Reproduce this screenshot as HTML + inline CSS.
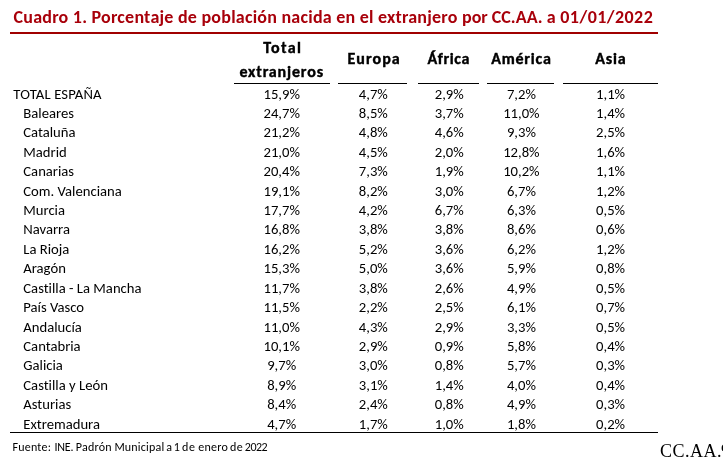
<!DOCTYPE html>
<html><head><meta charset="utf-8"><style>
html,body{margin:0;padding:0;background:#fff;}
body{width:723px;height:468px;overflow:hidden;position:relative;font-variant-ligatures:none;font-feature-settings:'liga' 0,'clig' 0;font-family:"Carlito","Calibri","Liberation Sans",sans-serif;color:#000;}
.t{position:absolute;white-space:nowrap;line-height:1;}
.c{position:absolute;white-space:nowrap;line-height:1;width:120px;text-align:center;}
.d{font-size:14.67px;}
.h{font-size:16px;font-weight:bold;-webkit-text-stroke:0.4px #000;}
.ln{position:absolute;height:1px;background:#000;}
</style></head><body>

<div class="t" style="left:13.5px;top:8.48px;font-size:18px;font-weight:bold;color:#A8000A;letter-spacing:0.235px">Cuadro 1. Porcentaje de población nacida en el extranjero <span style="letter-spacing:0.0px">por CC.AA.</span> a <span style="letter-spacing:0.45px">01/01/2022</span></div>
<div style="position:absolute;left:10px;top:32px;width:648px;height:2px;background:#A00000"></div>
<div class="c h" style="left:222.73px;top:39.76px;letter-spacing:1.3px;">Total</div>
<div class="c h" style="left:221.67px;top:63.76px;letter-spacing:0.85px;">extranjeros</div>
<div class="c h" style="left:314.13px;top:51.36px;letter-spacing:1.077px;">Europa</div>
<div class="c h" style="left:388.68px;top:51.36px;letter-spacing:0.602px;">África</div>
<div class="c h" style="left:461.38px;top:51.36px;letter-spacing:0.792px;">América</div>
<div class="c h" style="left:550.96px;top:51.36px;letter-spacing:0.861px;">Asia</div>
<div class="ln" style="left:234px;top:83px;width:96px"></div>
<div class="ln" style="left:338px;top:83px;width:69px"></div>
<div class="ln" style="left:418px;top:83px;width:61px"></div>
<div class="ln" style="left:487px;top:83px;width:67px"></div>
<div class="ln" style="left:563px;top:83px;width:95px"></div>
<div class="t d" style="left:13.3px;top:87.18px;letter-spacing:0.15px">TOTAL ESPAÑA</div>
<div class="c d" style="left:221.70px;top:87.18px;letter-spacing:0px;">15,9%</div>
<div class="c d" style="left:313.30px;top:87.18px;letter-spacing:0px;">4,7%</div>
<div class="c d" style="left:389.25px;top:87.18px;letter-spacing:0px;">2,9%</div>
<div class="c d" style="left:461.40px;top:87.18px;letter-spacing:0px;">7,2%</div>
<div class="c d" style="left:550.60px;top:87.18px;letter-spacing:0px;">1,1%</div>
<div class="t d" style="left:23.3px;top:106.18px;letter-spacing:0px">Baleares</div>
<div class="c d" style="left:221.70px;top:106.18px;letter-spacing:0px;">24,7%</div>
<div class="c d" style="left:313.30px;top:106.18px;letter-spacing:0px;">8,5%</div>
<div class="c d" style="left:389.25px;top:106.18px;letter-spacing:0px;">3,7%</div>
<div class="c d" style="left:461.40px;top:106.18px;letter-spacing:0px;">11,0%</div>
<div class="c d" style="left:550.60px;top:106.18px;letter-spacing:0px;">1,4%</div>
<div class="t d" style="left:23.3px;top:125.18px;letter-spacing:0px">Cataluña</div>
<div class="c d" style="left:221.70px;top:125.18px;letter-spacing:0px;">21,2%</div>
<div class="c d" style="left:313.30px;top:125.18px;letter-spacing:0px;">4,8%</div>
<div class="c d" style="left:389.25px;top:125.18px;letter-spacing:0px;">4,6%</div>
<div class="c d" style="left:461.40px;top:125.18px;letter-spacing:0px;">9,3%</div>
<div class="c d" style="left:550.60px;top:125.18px;letter-spacing:0px;">2,5%</div>
<div class="t d" style="left:23.3px;top:145.18px;letter-spacing:0px">Madrid</div>
<div class="c d" style="left:221.70px;top:145.18px;letter-spacing:0px;">21,0%</div>
<div class="c d" style="left:313.30px;top:145.18px;letter-spacing:0px;">4,5%</div>
<div class="c d" style="left:389.25px;top:145.18px;letter-spacing:0px;">2,0%</div>
<div class="c d" style="left:461.40px;top:145.18px;letter-spacing:0px;">12,8%</div>
<div class="c d" style="left:550.60px;top:145.18px;letter-spacing:0px;">1,6%</div>
<div class="t d" style="left:23.3px;top:164.18px;letter-spacing:0px">Canarias</div>
<div class="c d" style="left:221.70px;top:164.18px;letter-spacing:0px;">20,4%</div>
<div class="c d" style="left:313.30px;top:164.18px;letter-spacing:0px;">7,3%</div>
<div class="c d" style="left:389.25px;top:164.18px;letter-spacing:0px;">1,9%</div>
<div class="c d" style="left:461.40px;top:164.18px;letter-spacing:0px;">10,2%</div>
<div class="c d" style="left:550.60px;top:164.18px;letter-spacing:0px;">1,1%</div>
<div class="t d" style="left:23.3px;top:184.18px;letter-spacing:0px">Com. Valenciana</div>
<div class="c d" style="left:221.70px;top:184.18px;letter-spacing:0px;">19,1%</div>
<div class="c d" style="left:313.30px;top:184.18px;letter-spacing:0px;">8,2%</div>
<div class="c d" style="left:389.25px;top:184.18px;letter-spacing:0px;">3,0%</div>
<div class="c d" style="left:461.40px;top:184.18px;letter-spacing:0px;">6,7%</div>
<div class="c d" style="left:550.60px;top:184.18px;letter-spacing:0px;">1,2%</div>
<div class="t d" style="left:23.3px;top:203.18px;letter-spacing:0px">Murcia</div>
<div class="c d" style="left:221.70px;top:203.18px;letter-spacing:0px;">17,7%</div>
<div class="c d" style="left:313.30px;top:203.18px;letter-spacing:0px;">4,2%</div>
<div class="c d" style="left:389.25px;top:203.18px;letter-spacing:0px;">6,7%</div>
<div class="c d" style="left:461.40px;top:203.18px;letter-spacing:0px;">6,3%</div>
<div class="c d" style="left:550.60px;top:203.18px;letter-spacing:0px;">0,5%</div>
<div class="t d" style="left:23.3px;top:222.18px;letter-spacing:0px">Navarra</div>
<div class="c d" style="left:221.70px;top:222.18px;letter-spacing:0px;">16,8%</div>
<div class="c d" style="left:313.30px;top:222.18px;letter-spacing:0px;">3,8%</div>
<div class="c d" style="left:389.25px;top:222.18px;letter-spacing:0px;">3,8%</div>
<div class="c d" style="left:461.40px;top:222.18px;letter-spacing:0px;">8,6%</div>
<div class="c d" style="left:550.60px;top:222.18px;letter-spacing:0px;">0,6%</div>
<div class="t d" style="left:23.3px;top:242.18px;letter-spacing:0px">La Rioja</div>
<div class="c d" style="left:221.70px;top:242.18px;letter-spacing:0px;">16,2%</div>
<div class="c d" style="left:313.30px;top:242.18px;letter-spacing:0px;">5,2%</div>
<div class="c d" style="left:389.25px;top:242.18px;letter-spacing:0px;">3,6%</div>
<div class="c d" style="left:461.40px;top:242.18px;letter-spacing:0px;">6,2%</div>
<div class="c d" style="left:550.60px;top:242.18px;letter-spacing:0px;">1,2%</div>
<div class="t d" style="left:23.3px;top:261.18px;letter-spacing:0px">Aragón</div>
<div class="c d" style="left:221.70px;top:261.18px;letter-spacing:0px;">15,3%</div>
<div class="c d" style="left:313.30px;top:261.18px;letter-spacing:0px;">5,0%</div>
<div class="c d" style="left:389.25px;top:261.18px;letter-spacing:0px;">3,6%</div>
<div class="c d" style="left:461.40px;top:261.18px;letter-spacing:0px;">5,9%</div>
<div class="c d" style="left:550.60px;top:261.18px;letter-spacing:0px;">0,8%</div>
<div class="t d" style="left:23.3px;top:281.18px;letter-spacing:0px">Castilla - La Mancha</div>
<div class="c d" style="left:221.70px;top:281.18px;letter-spacing:0px;">11,7%</div>
<div class="c d" style="left:313.30px;top:281.18px;letter-spacing:0px;">3,8%</div>
<div class="c d" style="left:389.25px;top:281.18px;letter-spacing:0px;">2,6%</div>
<div class="c d" style="left:461.40px;top:281.18px;letter-spacing:0px;">4,9%</div>
<div class="c d" style="left:550.60px;top:281.18px;letter-spacing:0px;">0,5%</div>
<div class="t d" style="left:23.3px;top:300.18px;letter-spacing:0px">País Vasco</div>
<div class="c d" style="left:221.70px;top:300.18px;letter-spacing:0px;">11,5%</div>
<div class="c d" style="left:313.30px;top:300.18px;letter-spacing:0px;">2,2%</div>
<div class="c d" style="left:389.25px;top:300.18px;letter-spacing:0px;">2,5%</div>
<div class="c d" style="left:461.40px;top:300.18px;letter-spacing:0px;">6,1%</div>
<div class="c d" style="left:550.60px;top:300.18px;letter-spacing:0px;">0,7%</div>
<div class="t d" style="left:23.3px;top:320.18px;letter-spacing:0px">Andalucía</div>
<div class="c d" style="left:221.70px;top:320.18px;letter-spacing:0px;">11,0%</div>
<div class="c d" style="left:313.30px;top:320.18px;letter-spacing:0px;">4,3%</div>
<div class="c d" style="left:389.25px;top:320.18px;letter-spacing:0px;">2,9%</div>
<div class="c d" style="left:461.40px;top:320.18px;letter-spacing:0px;">3,3%</div>
<div class="c d" style="left:550.60px;top:320.18px;letter-spacing:0px;">0,5%</div>
<div class="t d" style="left:23.3px;top:339.18px;letter-spacing:0px">Cantabria</div>
<div class="c d" style="left:221.70px;top:339.18px;letter-spacing:0px;">10,1%</div>
<div class="c d" style="left:313.30px;top:339.18px;letter-spacing:0px;">2,9%</div>
<div class="c d" style="left:389.25px;top:339.18px;letter-spacing:0px;">0,9%</div>
<div class="c d" style="left:461.40px;top:339.18px;letter-spacing:0px;">5,8%</div>
<div class="c d" style="left:550.60px;top:339.18px;letter-spacing:0px;">0,4%</div>
<div class="t d" style="left:23.3px;top:358.18px;letter-spacing:0px">Galicia</div>
<div class="c d" style="left:221.70px;top:358.18px;letter-spacing:0px;">9,7%</div>
<div class="c d" style="left:313.30px;top:358.18px;letter-spacing:0px;">3,0%</div>
<div class="c d" style="left:389.25px;top:358.18px;letter-spacing:0px;">0,8%</div>
<div class="c d" style="left:461.40px;top:358.18px;letter-spacing:0px;">5,7%</div>
<div class="c d" style="left:550.60px;top:358.18px;letter-spacing:0px;">0,3%</div>
<div class="t d" style="left:23.3px;top:378.18px;letter-spacing:0px">Castilla y León</div>
<div class="c d" style="left:221.70px;top:378.18px;letter-spacing:0px;">8,9%</div>
<div class="c d" style="left:313.30px;top:378.18px;letter-spacing:0px;">3,1%</div>
<div class="c d" style="left:389.25px;top:378.18px;letter-spacing:0px;">1,4%</div>
<div class="c d" style="left:461.40px;top:378.18px;letter-spacing:0px;">4,0%</div>
<div class="c d" style="left:550.60px;top:378.18px;letter-spacing:0px;">0,4%</div>
<div class="t d" style="left:23.3px;top:397.18px;letter-spacing:0px">Asturias</div>
<div class="c d" style="left:221.70px;top:397.18px;letter-spacing:0px;">8,4%</div>
<div class="c d" style="left:313.30px;top:397.18px;letter-spacing:0px;">2,4%</div>
<div class="c d" style="left:389.25px;top:397.18px;letter-spacing:0px;">0,8%</div>
<div class="c d" style="left:461.40px;top:397.18px;letter-spacing:0px;">4,9%</div>
<div class="c d" style="left:550.60px;top:397.18px;letter-spacing:0px;">0,3%</div>
<div class="t d" style="left:23.3px;top:417.18px;letter-spacing:0px">Extremadura</div>
<div class="c d" style="left:221.70px;top:417.18px;letter-spacing:0px;">4,7%</div>
<div class="c d" style="left:313.30px;top:417.18px;letter-spacing:0px;">1,7%</div>
<div class="c d" style="left:389.25px;top:417.18px;letter-spacing:0px;">1,0%</div>
<div class="c d" style="left:461.40px;top:417.18px;letter-spacing:0px;">1,8%</div>
<div class="c d" style="left:550.60px;top:417.18px;letter-spacing:0px;">0,2%</div>
<div class="ln" style="left:10px;top:432px;width:648px"></div>
<div class="t" style="left:0;top:440.62px;font-size:12px;width:300px;height:12px"><span style="position:absolute;left:12.40px;top:0;letter-spacing:0.25px">Fuente:</span><span style="position:absolute;left:54.50px;top:0;letter-spacing:-0.25px">INE.</span><span style="position:absolute;left:75.80px;top:0;letter-spacing:0.25px">Padrón</span><span style="position:absolute;left:114.40px;top:0;letter-spacing:0.2px">Municipal</span><span style="position:absolute;left:166.30px;top:0;letter-spacing:0px">a</span><span style="position:absolute;left:173.80px;top:0;letter-spacing:0.25px">1</span><span style="position:absolute;left:182.00px;top:0;letter-spacing:0.6px">de</span><span style="position:absolute;left:198.30px;top:0;letter-spacing:0.25px">enero</span><span style="position:absolute;left:229.90px;top:0;letter-spacing:0.6px">de</span><span style="position:absolute;left:244.80px;top:0;letter-spacing:-0.5px">2022</span></div>
<div class="t" style="left:660px;top:442.452px;font-size:18px;font-family:'Liberation Serif',serif;letter-spacing:0.5px">CC.AA.<span style="display:inline-block;margin-left:-1.0px;clip-path:inset(0 0 9.5px 0)">9</span></div>
</body></html>
